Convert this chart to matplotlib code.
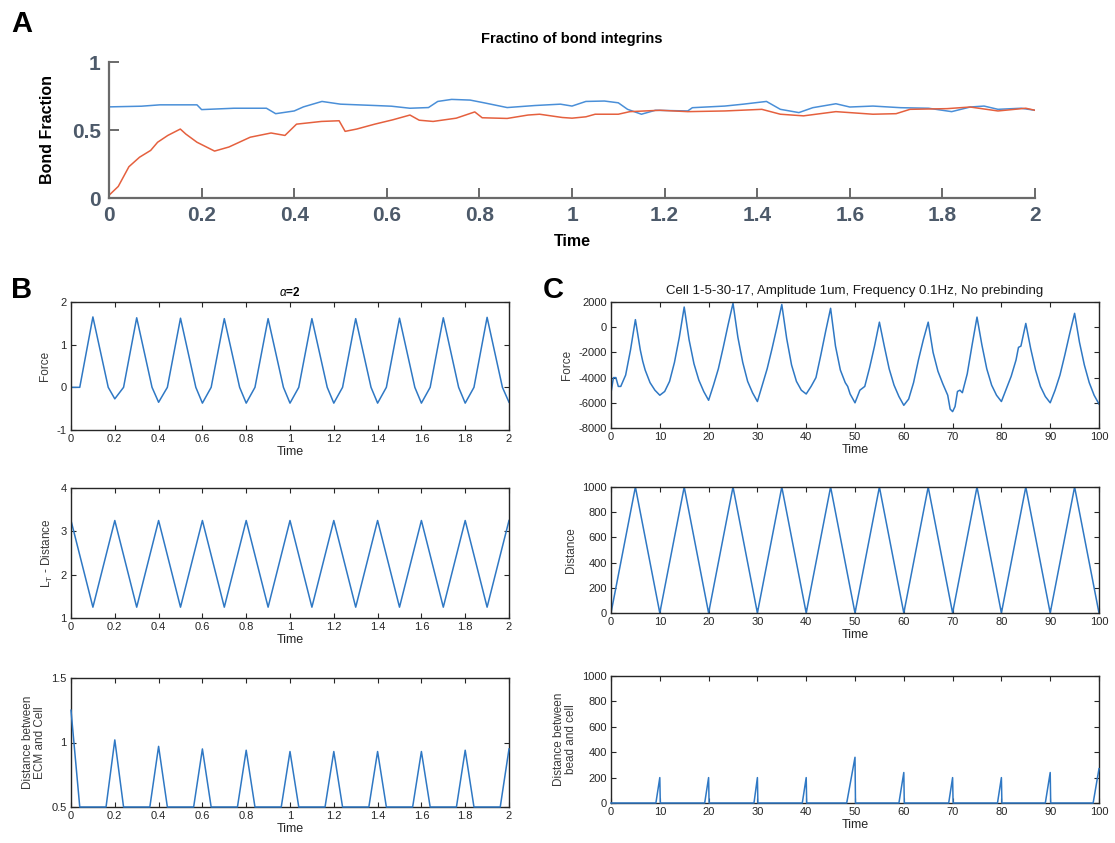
"""
Figura: fracción de integrinas unidas (A), modelo alpha=2 (B) y célula 1-5-30-17 (C).
"""
import matplotlib
matplotlib.use("Agg")
import matplotlib.pyplot as plt
from matplotlib.ticker import FuncFormatter, MultipleLocator

# --- Panel A: fracción de integrinas unidas ---
a_blue_t = [0, 0.07, 0.11, 0.19, 0.20, 0.27, 0.34, 0.36, 0.40, 0.42, 0.46, 0.50, 0.575,
            0.61, 0.65, 0.69, 0.71, 0.74, 0.78, 0.81, 0.86, 0.92, 0.975, 1.0, 1.03, 1.07,
            1.10, 1.12, 1.15, 1.18, 1.25, 1.26, 1.33, 1.37, 1.42, 1.45, 1.49, 1.52, 1.57,
            1.60, 1.65, 1.71, 1.77, 1.82, 1.86, 1.89, 1.92, 1.97, 2.0]
a_blue_v = [0.67, 0.675, 0.685, 0.685, 0.65, 0.66, 0.66, 0.62, 0.64, 0.67, 0.71, 0.69, 0.68,
            0.675, 0.66, 0.665, 0.71, 0.725, 0.72, 0.70, 0.665, 0.68, 0.69, 0.676, 0.71, 0.713,
            0.70, 0.652, 0.616, 0.645, 0.64, 0.664, 0.676, 0.69, 0.71, 0.652, 0.628, 0.664, 0.693,
            0.669, 0.676, 0.664, 0.66, 0.635, 0.669, 0.676, 0.652, 0.66, 0.645]
a_red_t = [0, 0.02, 0.043, 0.066, 0.09, 0.105, 0.127, 0.154, 0.166, 0.19, 0.228, 0.259,
           0.305, 0.35, 0.38, 0.405, 0.459, 0.497, 0.51, 0.535, 0.574, 0.613, 0.65, 0.67,
           0.70, 0.75, 0.79, 0.806, 0.86, 0.905, 0.93, 0.979, 1.0, 1.03, 1.05, 1.10, 1.125,
           1.19, 1.25, 1.33, 1.41, 1.45, 1.50, 1.57, 1.65, 1.70, 1.73, 1.81, 1.86, 1.92,
           1.98, 2.0]
a_red_v = [0.02, 0.085, 0.23, 0.30, 0.35, 0.41, 0.46, 0.507, 0.47, 0.41, 0.345, 0.375,
           0.447, 0.478, 0.46, 0.543, 0.563, 0.568, 0.49, 0.507, 0.543, 0.575, 0.61, 0.572,
           0.563, 0.587, 0.633, 0.59, 0.585, 0.61, 0.616, 0.592, 0.587, 0.597, 0.616, 0.616,
           0.635, 0.645, 0.635, 0.64, 0.652, 0.616, 0.604, 0.635, 0.616, 0.62, 0.652, 0.657,
           0.669, 0.64, 0.66, 0.645]

# --- Panel B: alpha = 2 ---
b_force_t = [0, 0.04, 0.10, 0.17, 0.20, 0.24, 0.30, 0.37, 0.40, 0.44, 0.50, 0.57, 0.60,
             0.64, 0.70, 0.77, 0.80, 0.84, 0.90, 0.97, 1.00, 1.04, 1.10, 1.17, 1.20, 1.24,
             1.30, 1.37, 1.40, 1.44, 1.50, 1.57, 1.60, 1.64, 1.70, 1.77, 1.80, 1.84, 1.90,
             1.97, 2.00]
b_force_v = [0, 0, 1.65, 0, -0.27, 0, 1.63, 0, -0.35, 0, 1.62, 0, -0.37,
             0, 1.61, 0, -0.37, 0, 1.61, 0, -0.37, 0, 1.61, 0, -0.37, 0,
             1.61, 0, -0.37, 0, 1.62, 0, -0.37, 0, 1.63, 0, -0.37, 0, 1.64,
             0, -0.35]
b_lt_t = [0, 0.1, 0.2, 0.3, 0.4, 0.5, 0.6, 0.7, 0.8, 0.9, 1.0, 1.1, 1.2, 1.3, 1.4, 1.5,
          1.6, 1.7, 1.8, 1.9, 2.0]
b_lt_v = [3.25, 1.25, 3.25, 1.25, 3.25, 1.25, 3.25, 1.25, 3.25, 1.25, 3.25, 1.25, 3.25,
          1.25, 3.25, 1.25, 3.25, 1.25, 3.25, 1.25, 3.25]
b_ecm_t = [0, 0.04, 0.16, 0.20, 0.24, 0.36, 0.40, 0.44, 0.56, 0.60, 0.64, 0.76, 0.80,
           0.84, 0.96, 1.00, 1.04, 1.16, 1.20, 1.24, 1.36, 1.40, 1.44, 1.56, 1.60, 1.64,
           1.76, 1.80, 1.84, 1.96, 2.00]
b_ecm_v = [1.25, 0.5, 0.5, 1.02, 0.5, 0.5, 0.97, 0.5, 0.5, 0.95, 0.5, 0.5, 0.94,
           0.5, 0.5, 0.93, 0.5, 0.5, 0.93, 0.5, 0.5, 0.93, 0.5, 0.5, 0.93, 0.5,
           0.5, 0.94, 0.5, 0.5, 0.95]

# --- Panel C: célula 1-5-30-17 ---
c_force_t = [0, 0.5, 1, 1.5, 2, 3, 4, 5, 5.5, 6, 6.5, 7, 8, 9, 10, 11, 12, 13, 14, 15,
             15.5, 16, 17, 18, 19, 20, 21, 22, 23, 24, 25, 26, 27, 28, 29, 30, 31, 32, 33,
             34, 35, 36, 37, 38, 39, 40, 41, 42, 43, 44, 45, 46, 47, 48, 48.5, 49, 50, 51,
             52, 53, 54, 55, 56, 57, 58, 59, 60, 61, 62, 63, 64, 65, 66, 67, 68, 69, 69.5,
             70, 70.5, 71, 71.5, 72, 73, 74, 75, 76, 77, 78, 79, 80, 81, 82, 83, 83.5, 84,
             85, 86, 87, 88, 89, 90, 91, 92, 93, 94, 95, 96, 97, 98, 99, 100]
c_force_v = [-5200, -4000, -4000, -4700, -4700, -3800, -1800, 600, -600, -1800, -2700,
             -3400, -4400, -5000, -5400, -5100, -4300, -2800, -800, 1600,
             300, -1000, -2900, -4200, -5100, -5800, -4600, -3300, -1600, 200, 1900, -800,
             -2800, -4300, -5200, -5900, -4600, -3300, -1700,
             0, 1800, -900, -3000, -4300, -5000, -5300, -4700, -4000, -2200, -300, 1500,
             -1500, -3400, -4400, -4700, -5300, -6000, -5000,
             -4700, -3200, -1500, 400, -1500, -3300, -4600, -5500, -6200, -5700, -4400,
             -2600, -1000, 400, -2000, -3500, -4500, -5400, -6500,
             -6700, -6300, -5100, -5000, -5200, -3700, -1400, 800, -1400, -3300, -4600,
             -5400, -5900, -4900, -3900, -2600, -1600, -1500,
             300, -1700, -3400, -4700, -5500, -6000, -5000, -3800, -2200, -500, 1100,
             -1200, -3000, -4400, -5400, -6100]
c_dist_t = [0, 5, 10, 15, 20, 25, 30, 35, 40, 45, 50, 55, 60, 65, 70, 75, 80, 85, 90, 95, 100]
c_dist_v = [0, 1000, 0, 1000, 0, 1000, 0, 1000, 0, 1000, 0, 1000, 0, 1000, 0, 1000, 0,
            1000, 0, 1000, 0]
c_bead_t = [0, 9.2, 10, 10.1, 19.2, 20, 20.1, 29.3, 30, 30.1, 39.2, 40, 40.1, 48.3, 50,
            50.1, 59.0, 60, 60.1, 69.2, 70, 70.1, 79.2, 80, 80.1, 89.0, 90, 90.1, 98.8, 100]
c_bead_v = [0, 0, 200, 0, 0, 200, 0, 0, 200, 0, 0, 200, 0, 0, 360,
            0, 0, 240, 0, 0, 200, 0, 0, 200, 0, 0, 240, 0, 0, 270]

FONT = ["Liberation Sans", "DejaVu Sans"]
NARROW = ["Liberation Sans Narrow", "Liberation Sans", "DejaVu Sans"]
plt.rcParams["font.family"] = FONT
plt.rcParams["mathtext.fontset"] = "custom"
plt.rcParams["mathtext.rm"] = "Liberation Sans"
plt.rcParams["mathtext.it"] = "Liberation Sans:italic"
plt.rcParams["mathtext.bf"] = "Liberation Sans:bold"

LINE = "#2f78c4"
INK = "#262626"
W, H = 1115, 843
fmt = FuncFormatter(lambda v, _: f"{v:g}")


def box(px_left, px_top, px_right, px_bottom):
    return [px_left / W, 1 - px_bottom / H, (px_right - px_left) / W, (px_bottom - px_top) / H]


def matlab_axes(ax, xmax, xstep, ylim, ystep, ylabel):
    for s in ax.spines.values():
        s.set_color(INK)
        s.set_linewidth(1.0)
    ax.set_xlim(0, xmax)
    ax.set_ylim(*ylim)
    ax.xaxis.set_major_locator(MultipleLocator(xstep))
    ax.yaxis.set_major_locator(MultipleLocator(ystep))
    ax.xaxis.set_major_formatter(fmt)
    ax.yaxis.set_major_formatter(fmt)
    ax.tick_params(direction="in", top=True, right=True, length=3.5, width=0.8,
                   labelsize=8, colors=INK, pad=3)
    ax.set_xlabel("Time", fontsize=9, color=INK, labelpad=1)
    ax.set_ylabel(ylabel, fontsize=8.5, color="#3a3a3a", labelpad=4, linespacing=1.0)


fig = plt.figure(figsize=(W / 100, H / 100), dpi=100)

# ---------- A ----------
ax = fig.add_axes(box(109, 62, 1035, 198))
ax.plot(a_blue_t, a_blue_v, color="#4a8fd8", lw=1.1)
ax.plot(a_red_t, a_red_v, color="#e5603e", lw=1.1)
ax.set_xlim(0, 2)
ax.set_ylim(0, 1)
ax.xaxis.set_major_locator(MultipleLocator(0.2))
ax.yaxis.set_major_locator(MultipleLocator(0.5))
ax.xaxis.set_major_formatter(fmt)
ax.yaxis.set_major_formatter(fmt)
for side in ("top", "right"):
    ax.spines[side].set_visible(False)
for side in ("left", "bottom"):
    ax.spines[side].set_color("#6a6a6a")
    ax.spines[side].set_linewidth(1.6)
ax.tick_params(direction="in", length=7, width=1.4, color="#6a6a6a",
               labelsize=15, labelcolor="#4d5a6a", pad=6)
for lab in ax.get_xticklabels() + ax.get_yticklabels():
    lab.set_fontweight("bold")
ax.set_title("Fractino of bond integrins", fontsize=10.5, fontweight="bold",
             family=NARROW, pad=14)
ax.set_xlabel("Time", fontsize=11.5, fontweight="bold", family=NARROW, labelpad=6)
ax.set_ylabel("Bond Fraction", fontsize=11.5, fontweight="bold", family=NARROW, labelpad=12)

# ---------- B ----------
axb1 = fig.add_axes(box(71, 302, 509, 430))
axb1.plot(b_force_t, b_force_v, color=LINE, lw=1.1)
matlab_axes(axb1, 2, 0.2, (-1, 2), 1, "Force")
axb1.set_title(r"$\alpha$=2", fontsize=8.5, fontweight="bold", pad=4)

axb2 = fig.add_axes(box(71, 488, 509, 618))
axb2.plot(b_lt_t, b_lt_v, color=LINE, lw=1.1)
matlab_axes(axb2, 2, 0.2, (1, 4), 1, r"L$_\mathregular{T}$ - Distance")

axb3 = fig.add_axes(box(71, 678, 509, 807))
axb3.plot(b_ecm_t, b_ecm_v, color=LINE, lw=1.1, clip_on=False, zorder=3)
matlab_axes(axb3, 2, 0.2, (0.5, 1.5), 0.5, "Distance between\nECM and Cell")

# ---------- C ----------
axc1 = fig.add_axes(box(611, 302, 1099, 428))
axc1.plot(c_force_t, c_force_v, color=LINE, lw=1.1)
matlab_axes(axc1, 100, 10, (-8000, 2000), 2000, "Force")
axc1.set_title("Cell 1-5-30-17, Amplitude 1um, Frequency 0.1Hz, No prebinding",
               fontsize=9.5, color="#1a1a1a", pad=6)

axc2 = fig.add_axes(box(611, 487, 1099, 613))
axc2.plot(c_dist_t, c_dist_v, color=LINE, lw=1.1)
matlab_axes(axc2, 100, 10, (0, 1000), 200, "Distance")

axc3 = fig.add_axes(box(611, 676, 1099, 803))
axc3.plot(c_bead_t, c_bead_v, color=LINE, lw=1.1, clip_on=False, zorder=3)
matlab_axes(axc3, 100, 10, (0, 1000), 200, "Distance between\nbead and cell")

# Etiquetas de panel
for letter, x, y in (("A", 22, 24), ("B", 22, 290), ("C", 553, 290)):
    fig.text(x / W, 1 - y / H, letter, fontsize=21, fontweight="bold",
             ha="center", va="center")

fig.savefig("out.png", dpi=100)
